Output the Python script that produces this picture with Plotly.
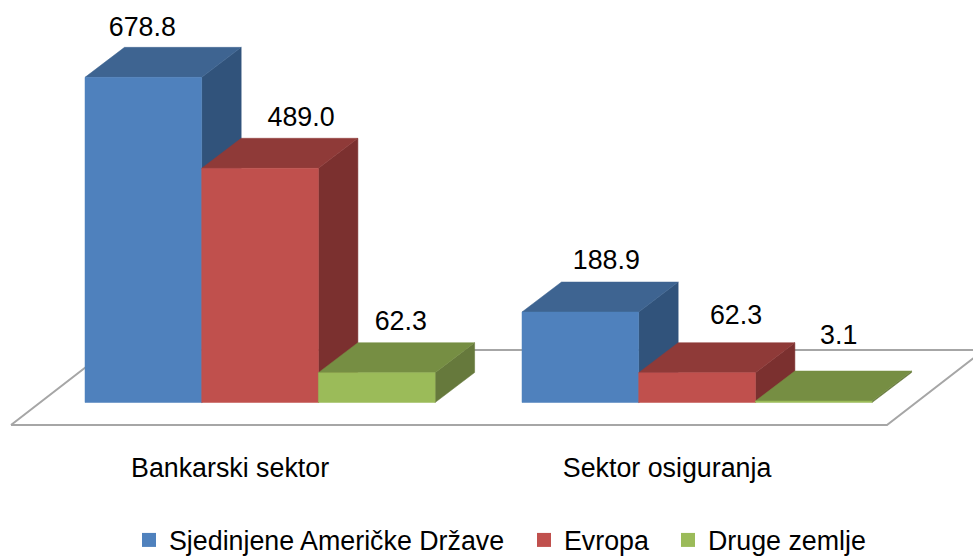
import plotly.graph_objects as go

categories = ["Bankarski sektor", "Sektor osiguranja"]
series_names = ["Sjedinjene Američke Države", "Evropa", "Druge zemlje"]
usa = [678.8, 188.9]
evropa = [489.0, 62.3]
druge = [62.3, 3.1]
series_values = [usa, evropa, druge]
label_text = [["678.8", "188.9"], ["489.0", "62.3"], ["62.3", "3.1"]]

front = ["#4F81BD", "#C0504D", "#9BBB59"]
top = ["#3E6491", "#8F3A38", "#768E43"]
side = ["#31537B", "#7B302F", "#66793C"]

# geometry
W, H = 973, 557
PLOT_BOTTOM = 446
BASE_PX = 402.5
K = 0.479            # pixels per value unit
SLOT = 116.7         # pixels per bar slot
LEFT_PX = 85
DX, DY = 39.5 / SLOT, 30 / K     # depth offset in data units
GROUP_START = [0, 437 / SLOT]
FONT = 26.8

# label offsets in px relative to the bar's front top-centre
label_dx = [[-1, 26], [41, 39], [24, 25]]
label_dy = [[-48, -49.5], [-49, -55.5], [-49.5, -63.5]]
cat_dx = -30 / SLOT
legend_x_px = [129, 524, 668]

fig = go.Figure()

# floor
fx0 = -74 / SLOT
fx1 = (887 - LEFT_PX) / SLOT
fy0 = -22.5 / K
fdx = 97 / SLOT
fdy = 75 / K
fig.add_trace(go.Scatter(
    x=[fx0, fx1, fx1 + fdx, fx0 + fdx, fx0],
    y=[fy0, fy0, fy0 + fdy, fy0 + fdy, fy0],
    mode="lines", fill="toself", fillcolor="#FFFFFF",
    line=dict(color="#A6A6A6", width=2), showlegend=False, hoverinfo="skip"))


def poly(xs, ys, color):
    fig.add_trace(go.Scatter(
        x=xs + xs[:1], y=ys + ys[:1], mode="lines", fill="toself",
        fillcolor=color, line=dict(color=color, width=0.5),
        showlegend=False, hoverinfo="skip"))


for g, start in enumerate(GROUP_START):
    for s, vals in enumerate(series_values):
        v = vals[g]
        x0 = start + s
        x1 = x0 + 1
        poly([x1, x1 + DX, x1 + DX, x1], [0, DY, v + DY, v], side[s])
        poly([x0, x1, x1 + DX, x0 + DX], [v, v, v + DY, v + DY], top[s])
        poly([x0, x1, x1, x0], [0, 0, v, v], front[s])

# value labels
lx, ly, lt = [], [], []
for g, start in enumerate(GROUP_START):
    for s, vals in enumerate(series_values):
        lx.append(start + s + 0.5 + label_dx[s][g] / SLOT)
        ly.append(vals[g] - label_dy[s][g] / K)
        lt.append(label_text[s][g])
fig.add_trace(go.Scatter(
    x=lx, y=ly, text=lt, mode="text", textposition="middle center",
    textfont=dict(family="Liberation Sans", size=FONT, color="#000000"),
    showlegend=False, hoverinfo="skip", cliponaxis=False))

# legend entries, each in its own legend so the spacing can follow the reference
legend_ids = ["legend", "legend2", "legend3"]
for name, color, lid in zip(series_names, front, legend_ids):
    fig.add_trace(go.Scatter(
        x=[None], y=[None], mode="markers", name=name, legend=lid,
        marker=dict(symbol="square", size=14, color=color)))

legend_layout = {
    lid: dict(
        orientation="h", xref="container", yref="container",
        x=px / W, xanchor="left", y=(H - 540) / H, yanchor="middle",
        font=dict(family="Liberation Sans", size=FONT, color="#000000"),
        itemwidth=30, bgcolor="rgba(0,0,0,0)")
    for lid, px in zip(legend_ids, legend_x_px)
}

fig.update_layout(
    width=W, height=H, autosize=False,
    margin=dict(l=0, r=0, t=0, b=H - PLOT_BOTTOM),
    paper_bgcolor="#FFFFFF", plot_bgcolor="#FFFFFF",
    showlegend=True,
    xaxis=dict(
        range=[-LEFT_PX / SLOT, (W - LEFT_PX) / SLOT], showgrid=False, zeroline=False,
        showline=False, ticks="", tickmode="array",
        tickvals=[st + 1.5 + cat_dx for st in GROUP_START], ticktext=categories,
        tickfont=dict(family="Liberation Sans", size=FONT, color="#000000"), ticklabelstandoff=3),
    yaxis=dict(
        range=[(BASE_PX - PLOT_BOTTOM) / K, BASE_PX / K], showgrid=False, zeroline=False,
        showline=False, showticklabels=False, ticks=""),
    **legend_layout,
)
fig.write_html("out.html", config={"displayModeBar": False},
               post_script="document.body.style.margin='0';")
